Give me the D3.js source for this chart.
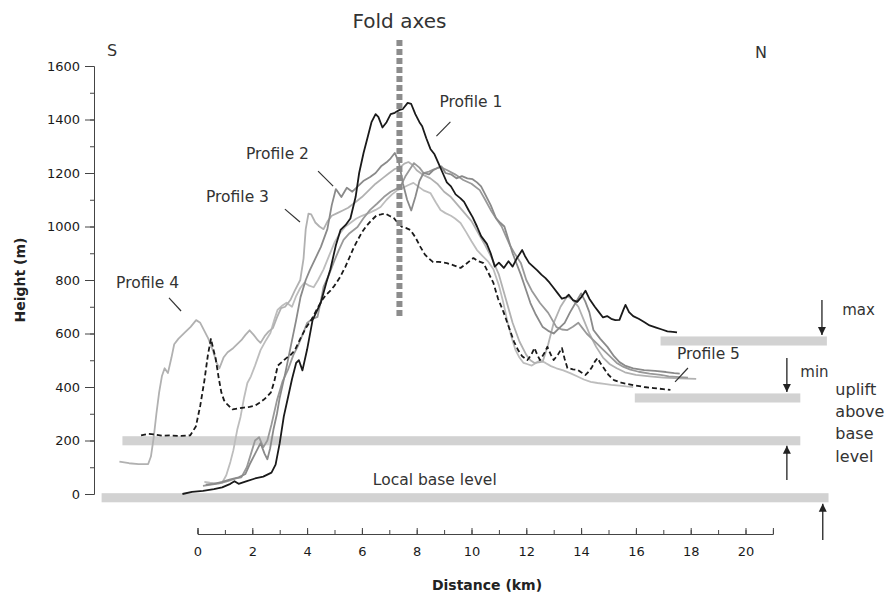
<!DOCTYPE html>
<html><head><meta charset="utf-8">
<script src="https://cdn.jsdelivr.net/npm/d3@7"></script>
<style>
html,body{margin:0;padding:0;background:#fff;}
svg{display:block;}
</style></head>
<body>
<svg id="chart" width="889" height="598"></svg>
<script>
// ---------- DATA (distance km, height m) ----------
const profile1 = [[-0.55,0],[-0.2,8],[0.2,12],[0.6,18],[0.9,25],[1.2,38],[1.35,48],[1.5,38],[1.8,48],[2.1,58],[2.4,65],[2.7,80],[2.85,110],[3.0,190],[3.15,290],[3.3,360],[3.45,430],[3.6,490],[3.7,500],[3.83,462],[4.0,540],[4.2,650],[4.5,715],[4.7,790],[4.85,840],[5.05,930],[5.22,987],[5.4,1005],[5.58,1030],[5.77,1110],[5.9,1200],[6.06,1275],[6.2,1330],[6.35,1390],[6.5,1420],[6.6,1410],[6.75,1370],[6.9,1390],[7.05,1420],[7.2,1425],[7.36,1435],[7.5,1440],[7.67,1462],[7.8,1458],[7.95,1420],[8.1,1390],[8.2,1375],[8.35,1330],[8.5,1290],[8.65,1270],[8.8,1235],[8.95,1200],[9.1,1165],[9.25,1150],[9.42,1120],[9.6,1105],[9.73,1092],[9.9,1060],[10.04,1035],[10.2,1000],[10.35,964],[10.56,935],[10.7,900],[10.85,850],[11.0,865],[11.18,845],[11.35,870],[11.5,850],[11.65,880],[11.85,912],[11.95,890],[12.1,864],[12.25,850],[12.4,836],[12.55,820],[12.7,807],[12.85,790],[13.0,770],[13.15,750],[13.3,730],[13.45,735],[13.55,745],[13.7,725],[13.86,718],[14.0,735],[14.16,760],[14.3,730],[14.5,700],[14.65,680],[14.8,660],[14.95,665],[15.1,655],[15.25,650],[15.4,651],[15.55,690],[15.62,707],[15.75,680],[15.9,665],[16.1,655],[16.3,643],[16.5,630],[16.74,622],[16.95,615],[17.15,608],[17.35,606],[17.5,604]];

const profileDashed = [[-2.06,219],[-1.8,225],[-1.6,223],[-1.3,218],[-1.0,219],[-0.6,217],[-0.27,219],[-0.06,252],[0.1,330],[0.25,423],[0.38,520],[0.49,580],[0.58,540],[0.66,508],[0.78,430],[0.87,380],[0.97,350],[1.07,337],[1.28,316],[1.5,320],[1.69,323],[1.9,326],[2.1,330],[2.25,340],[2.41,352],[2.55,365],[2.68,380],[2.8,420],[2.93,480],[3.1,495],[3.24,508],[3.4,520],[3.55,537],[3.75,580],[3.96,622],[4.15,650],[4.37,693],[4.55,725],[4.68,743],[4.85,760],[5.0,779],[5.2,810],[5.4,850],[5.55,885],[5.7,921],[5.85,950],[6.0,978],[6.15,1000],[6.33,1021],[6.54,1042],[6.7,1045],[6.85,1049],[7.0,1040],[7.16,1032],[7.3,1015],[7.46,999],[7.6,995],[7.77,987],[7.95,960],[8.14,923],[8.3,895],[8.45,880],[8.6,867],[8.8,868],[9.1,863],[9.35,855],[9.6,845],[9.8,860],[10.07,882],[10.25,870],[10.44,863],[10.6,830],[10.8,789],[10.97,730],[11.17,680],[11.4,613],[11.55,570],[11.7,538],[11.85,515],[12.04,501],[12.18,520],[12.3,546],[12.4,520],[12.5,501],[12.65,525],[12.77,550],[12.9,520],[13.0,501],[13.15,520],[13.3,546],[13.4,505],[13.5,471],[13.7,466],[13.87,464],[14.0,455],[14.16,445],[14.3,460],[14.4,475],[14.5,495],[14.6,508],[14.7,490],[14.8,475],[15.0,445],[15.2,426],[15.5,415],[15.9,407],[16.3,400],[16.65,396],[17.0,392],[17.26,389]];

const profile2 = [[0.3,35],[0.6,38],[0.9,45],[1.2,55],[1.5,62],[1.75,75],[1.93,116],[2.1,150],[2.3,190],[2.45,150],[2.55,130],[2.65,170],[2.77,240],[2.9,300],[3.0,360],[3.2,450],[3.4,550],[3.6,650],[3.76,736],[3.95,800],[4.1,837],[4.3,880],[4.5,923],[4.74,990],[4.9,1080],[5.05,1140],[5.25,1110],[5.45,1145],[5.65,1130],[5.85,1150],[6.05,1170],[6.3,1185],[6.5,1200],[6.7,1225],[6.9,1240],[7.05,1255],[7.2,1275],[7.35,1240],[7.5,1160],[7.65,1100],[7.8,1060],[7.95,1110],[8.1,1170],[8.25,1200],[8.45,1195],[8.6,1210],[8.76,1219],[8.9,1225],[9.05,1200],[9.25,1195],[9.45,1180],[9.65,1188],[9.85,1180],[10.04,1177],[10.2,1165],[10.35,1150],[10.5,1120],[10.7,1080],[10.9,1030],[11.06,1013],[11.2,1000],[11.35,950],[11.5,900],[11.65,860],[11.8,820],[12.0,760],[12.15,714],[12.35,670],[12.6,624],[12.8,610],[13.0,600],[13.2,620],[13.4,640],[13.6,680],[13.8,715],[14.0,750],[14.15,720],[14.3,680],[14.45,613],[14.7,580],[14.96,550],[15.2,515],[15.4,493],[15.6,480],[15.9,470],[16.3,463],[16.7,460],[17.1,456],[17.4,452],[17.6,450]];

const profile3 = [[0.2,30],[0.5,35],[0.8,40],[1.1,48],[1.4,58],[1.6,62],[1.8,100],[1.95,150],[2.1,200],[2.25,212],[2.4,175],[2.55,200],[2.7,260],[2.9,350],[3.1,420],[3.3,464],[3.5,520],[3.65,550],[3.85,600],[4.0,639],[4.2,655],[4.38,662],[4.5,720],[4.6,774],[4.8,820],[4.96,863],[5.15,910],[5.33,950],[5.55,975],[5.84,998],[6.05,1030],[6.3,1062],[6.55,1085],[6.8,1110],[7.05,1130],[7.4,1148],[7.6,1190],[7.9,1237],[8.1,1220],[8.25,1200],[8.45,1205],[8.65,1215],[8.87,1222],[9.1,1211],[9.4,1195],[9.7,1174],[10.0,1160],[10.3,1136],[10.5,1100],[10.7,1062],[10.9,1030],[11.1,1000],[11.25,965],[11.4,930],[11.6,895],[11.8,864],[12.0,800],[12.2,760],[12.5,714],[12.8,677],[13.1,624],[13.3,615],[13.5,613],[13.7,625],[13.9,640],[14.05,620],[14.2,600],[14.4,580],[14.6,560],[14.8,540],[15.0,520],[15.3,490],[15.55,475],[15.8,465],[16.1,457],[16.5,450],[16.9,445],[17.2,440],[17.6,437],[17.9,435]];

const profile4 = [[-2.85,121],[-2.5,115],[-2.15,112],[-1.8,112],[-1.7,140],[-1.6,210],[-1.5,300],[-1.4,380],[-1.3,440],[-1.2,470],[-1.08,452],[-0.95,510],[-0.85,560],[-0.7,580],[-0.45,605],[-0.25,625],[-0.05,650],[0.1,640],[0.25,610],[0.4,580],[0.56,537],[0.7,490],[0.8,470],[0.95,510],[1.1,530],[1.3,545],[1.45,560],[1.6,575],[1.75,595],[1.9,612],[2.05,595],[2.2,575],[2.3,565],[2.45,590],[2.6,608],[2.75,620],[2.9,660],[3.05,695],[3.2,700],[3.39,725],[3.55,760],[3.75,800],[3.87,880],[3.95,990],[4.05,1048],[4.15,1045],[4.3,1015],[4.45,1000],[4.6,990],[4.75,1020],[4.9,1040],[5.1,1050],[5.3,1060],[5.5,1070],[5.75,1090],[6.0,1110],[6.25,1135],[6.5,1160],[6.75,1180],[7.0,1200],[7.2,1215],[7.4,1222],[7.55,1235],[7.7,1241],[7.85,1230],[8.0,1210],[8.2,1195],[8.5,1180],[8.75,1160],[9.0,1130],[9.25,1110],[9.5,1080],[9.75,1050],[10.0,1020],[10.25,975],[10.5,930],[10.75,880],[11.0,820],[11.25,730],[11.5,640],[11.75,570],[12.0,520],[12.15,500],[12.3,490],[12.45,492],[12.6,495],[12.8,560],[13.0,640],[13.25,700],[13.5,740],[13.7,725],[13.9,700],[14.1,650],[14.3,600],[14.55,550],[14.8,510],[15.05,485],[15.3,470],[15.6,455],[16.0,445],[16.5,440],[17.0,435],[17.6,432],[18.2,430]];

const profile6 = [[0.25,45],[0.45,42],[0.7,40],[0.9,42],[1.05,70],[1.2,120],[1.31,164],[1.45,240],[1.57,288],[1.7,360],[1.82,415],[1.95,440],[2.1,480],[2.3,538],[2.5,575],[2.66,602],[2.8,650],[2.92,688],[3.1,705],[3.25,715],[3.45,700],[3.6,740],[3.75,770],[3.9,790],[4.05,780],[4.24,773],[4.4,800],[4.6,840],[4.8,890],[5.0,940],[5.2,975],[5.4,1000],[5.6,1015],[5.8,1030],[6.0,1040],[6.25,1050],[6.5,1062],[6.68,1073],[6.9,1100],[7.1,1120],[7.3,1136],[7.5,1145],[7.7,1155],[7.88,1163],[8.05,1150],[8.25,1135],[8.5,1125],[8.7,1090],[8.87,1062],[9.05,1050],[9.25,1040],[9.4,1030],[9.6,1013],[9.8,980],[10.0,945],[10.2,912],[10.4,890],[10.6,870],[10.8,840],[11.0,780],[11.15,720],[11.3,650],[11.45,590],[11.6,540],[11.75,510],[11.9,490],[12.05,485],[12.2,480],[12.35,490],[12.5,500],[12.7,490],[12.9,478],[13.1,470],[13.35,462],[13.6,452],[13.85,440],[14.1,428],[14.35,419],[14.6,415],[14.85,412],[15.1,408],[15.4,405],[15.65,402],[15.9,400]];

// fold axis position and extent
const foldAxisKm = 7.37;
const foldAxisRange = [665, 1697];

// grey reference bars: start km, end km, height m
const barStartKm = [-3.5, -2.74, 15.96, 16.9];
const barEndKm   = [23.03, 22.0, 22.0, 22.97];
const barHeightM = [-14, 199, 359, 572];

// ticks
const xTicksMajor = [0,2,4,6,8,10,12,14,16,18,20];
const xTicksMinor = d3.range(0, 22, 1);
const yTicksMajor = [0,200,400,600,800,1000,1200,1400,1600];
const yTicksMinor = d3.range(0, 1700, 100);

// labels
const profileLabels = ["Profile 1","Profile 2","Profile 3","Profile 4","Profile 5"];
const profileLabelPos = [[8.83,1447],[1.77,1252],[0.31,1092],[-2.97,770],[17.5,505]];
const pointerFrom = [[9.23,1391],[4.4,1207],[3.19,1065],[-1.04,733],[17.9,471]];
const pointerTo   = [[8.72,1338],[4.95,1151],[3.74,1017],[-0.6,684],[17.43,419]];
const upliftLines = ["uplift","above","base","level"];

// ---------- DRAW ----------
const svg = d3.select("#chart");
const x = d3.scaleLinear().domain([0,20]).range([197.5, 745.5]);
const y = d3.scaleLinear().domain([0,1600]).range([494, 66]);

const ANN = "'DejaVu Sans', sans-serif";
const TXT = "#333";

// bars
const half = 17;
svg.append("g").selectAll("rect").data(barHeightM).join("rect")
  .attr("x", (d,i) => x(barStartKm[i]))
  .attr("width", (d,i) => x(barEndKm[i]) - x(barStartKm[i]))
  .attr("y", d => y(d + half))
  .attr("height", d => y(d - half) - y(d + half))
  .attr("fill", "#d2d2d2");

// y axis
const gy = svg.append("g").attr("transform", `translate(94,0)`);
gy.call(d3.axisLeft(y).tickValues(yTicksMinor).tickSize(4).tickFormat("").tickSizeOuter(0));
gy.append("g").call(d3.axisLeft(y).tickValues(yTicksMajor).tickSize(9).tickPadding(5).tickSizeOuter(0).tickFormat(d3.format("d")));
gy.selectAll("path.domain").attr("stroke", "#444");
gy.selectAll("line").attr("stroke", "#444");
gy.selectAll("text").attr("font-family", ANN).attr("font-size", 13).attr("fill", "#1a1a1a");

// x axis
const xa = d3.scaleLinear().domain([0,21]).range([x(0), x(21)]);
const gx = svg.append("g").attr("transform", `translate(0,534)`);
gx.call(d3.axisBottom(xa).tickValues(xTicksMinor).tickSize(-4).tickFormat("").tickSizeOuter(-6));
gx.append("g").call(d3.axisBottom(xa).tickValues(xTicksMajor).tickSize(-6).tickPadding(13).tickSizeOuter(0).tickFormat(d3.format("d")));
gx.selectAll("g > path.domain").filter((d,i)=>i>0).remove();
gx.selectAll("path.domain").attr("stroke", "#444");
gx.selectAll("line").attr("stroke", "#444");
gx.selectAll("text").attr("font-family", ANN).attr("font-size", 13).attr("fill", "#1a1a1a");

// lines
const line = d3.line().x(d => x(d[0])).y(d => y(d[1]));
const series = [
  {data: profile6, color: "#bdbdbd", dash: null, w: 1.8},
  {data: profile4, color: "#b1b1b1", dash: null, w: 1.8},
  {data: profile3, color: "#999999", dash: null, w: 1.8},
  {data: profile2, color: "#8a8a8a", dash: null, w: 1.8},
  {data: profileDashed, color: "#1a1a1a", dash: "5,3", w: 1.8},
  {data: profile1, color: "#1a1a1a", dash: null, w: 1.8}
];
svg.append("g").selectAll("path").data(series).join("path")
  .attr("d", s => line(s.data))
  .attr("fill", "none")
  .attr("stroke", s => s.color)
  .attr("stroke-width", s => s.w)
  .attr("stroke-linejoin", "round")
  .attr("stroke-dasharray", s => s.dash);

// fold axis
svg.append("line")
  .attr("x1", x(foldAxisKm)).attr("x2", x(foldAxisKm))
  .attr("y1", y(foldAxisRange[1])).attr("y2", y(foldAxisRange[0]))
  .attr("stroke", "#8c8c8c").attr("stroke-width", 6).attr("stroke-dasharray", "6,3");
svg.append("text").attr("x", x(foldAxisKm)).attr("y", 28)
  .attr("text-anchor", "middle").attr("font-family", ANN).attr("font-size", 20).attr("fill", TXT)
  .text("Fold axes");

// profile labels and pointers
svg.append("g").selectAll("text").data(profileLabels).join("text")
  .attr("x", (d,i) => x(profileLabelPos[i][0]))
  .attr("y", (d,i) => y(profileLabelPos[i][1]))
  .attr("font-family", ANN).attr("font-size", 15.5).attr("fill", TXT)
  .text(d => d);
svg.append("g").selectAll("line").data(pointerFrom).join("line")
  .attr("x1", d => x(d[0])).attr("y1", d => y(d[1]))
  .attr("x2", (d,i) => x(pointerTo[i][0])).attr("y2", (d,i) => y(pointerTo[i][1]))
  .attr("stroke", "#333").attr("stroke-width", 1.2);

// other annotations
svg.append("text").attr("x", x(6.4)).attr("y", y(34))
  .attr("font-family", ANN).attr("font-size", 15.5).attr("fill", TXT).text("Local base level");
svg.append("text").attr("x", x(-3.3)).attr("y", y(1637))
  .attr("font-family", ANN).attr("font-size", 16).attr("fill", TXT).text("S");
svg.append("text").attr("x", x(20.35)).attr("y", y(1630))
  .attr("font-family", ANN).attr("font-size", 16).attr("fill", TXT).text("N");
svg.append("text").attr("x", x(23.53)).attr("y", y(669))
  .attr("font-family", ANN).attr("font-size", 15).attr("fill", TXT).text("max");
svg.append("text").attr("x", x(22.0)).attr("y", y(437))
  .attr("font-family", ANN).attr("font-size", 15).attr("fill", TXT).text("min");
const upl = svg.append("text").attr("font-family", ANN).attr("font-size", 16).attr("fill", TXT);
upl.selectAll("tspan").data(upliftLines).join("tspan")
  .attr("x", x(23.28)).attr("y", (d,i) => y(370 - i*83)).text(d => d);

// arrows
const defs = svg.append("defs");
defs.append("marker").attr("id","ah").attr("viewBox","0 0 10 10").attr("refX",10).attr("refY",5)
  .attr("markerWidth",8).attr("markerHeight",10).attr("markerUnits","userSpaceOnUse").attr("orient","auto")
  .append("path").attr("d","M0,0L10,5L0,10Z").attr("fill","#222");
const arrowFrom = [[22.79,725],[21.51,508],[21.51,52],[22.82,-172]];
const arrowTo   = [[22.79,594],[21.51,381],[21.51,180],[22.82,-36]];
svg.append("g").selectAll("line").data(arrowFrom).join("line")
  .attr("x1", d => x(d[0])).attr("y1", d => y(d[1]))
  .attr("x2", (d,i) => x(arrowTo[i][0])).attr("y2", (d,i) => y(arrowTo[i][1]))
  .attr("stroke", "#222").attr("stroke-width", 1.3).attr("marker-end", "url(#ah)");

// axis titles
svg.append("text").attr("transform", "translate(25,280) rotate(-90)")
  .attr("text-anchor","middle").attr("font-family", ANN).attr("font-weight","bold")
  .attr("font-size", 14).attr("fill", "#222").text("Height (m)");
svg.append("text").attr("x", 487).attr("y", 590)
  .attr("text-anchor","middle").attr("font-family", ANN).attr("font-weight","bold")
  .attr("font-size", 14).attr("fill", "#222").text("Distance (km)");
</script>
</body></html>
